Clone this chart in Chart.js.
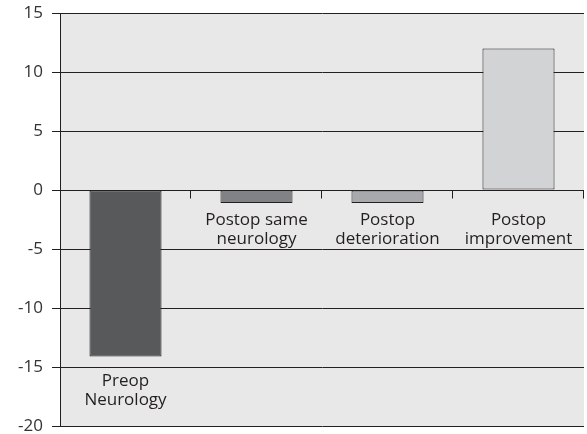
<!DOCTYPE html>
<html>
<head>
<meta charset="utf-8">
<script src="https://cdn.jsdelivr.net/npm/chart.js@4"></script>
<style>
  html, body { margin: 0; padding: 0; background: #fff; }
  #wrap { width: 587px; height: 434px; }
</style>
</head>
<body>
<div id="wrap"><canvas id="outcomeChart" width="587" height="434"></canvas></div>
<script>
// Data
const categories = [['Preop', 'Neurology'], ['Postop same', 'neurology'], ['Postop', 'deterioration'], ['Postop', 'improvement']];
const values = [-14.1, -1.1, -1.1, 12];
const barColors = ['#58595b', '#808285', '#a7a9ac', '#d1d3d4'];
const yTicks = [15, 10, 5, 0, -5, -10, -15, -20];

const fontFamily = '"Open Sans", "Noto Sans", sans-serif';
const inkColor = '#231f20';

// Grey plot background
const plotBackground = {
    id: 'plotBackground',
    beforeDraw(chart) {
        const { ctx, chartArea: a } = chart;
        ctx.save();
        ctx.fillStyle = '#e8e8e8';
        ctx.fillRect(a.left, a.top, a.right - a.left, a.bottom - a.top);
        ctx.restore();
    }
};

// Category axis drawn along zero, labels under each bar end
const zeroAxis = {
    id: 'zeroAxis',
    afterDatasetsDraw(chart) {
        const { ctx, chartArea: a, scales } = chart;
        const x = scales.x, y = scales.y;
        const y0 = Math.round(y.getPixelForValue(0)) + 0.5;
        const step = x.getPixelForValue(1) - x.getPixelForValue(0);
        ctx.save();
        ctx.strokeStyle = inkColor;
        ctx.lineWidth = 1;
        ctx.beginPath();
        ctx.moveTo(a.left, y0);
        ctx.lineTo(a.right, y0);
        // tick marks between categories
        for (let i = 0; i < categories.length; i++) {
            const bx = Math.round(x.getPixelForValue(i) + step / 2) - 0.5;
            ctx.moveTo(bx, y0);
            ctx.lineTo(bx, y0 + 8);
        }
        ctx.stroke();

        ctx.fillStyle = inkColor;
        ctx.font = '17px ' + fontFamily;
        ctx.textAlign = 'center';
        ctx.textBaseline = 'alphabetic';
        values.forEach((v, i) => {
            const cx = x.getPixelForValue(i);
            // small bars: labels just under the zero line, long bars: under the bar end
            const base = v < -5 ? y.getPixelForValue(v) + 30 : y.getPixelForValue(0) + 35;
            categories[i].forEach((line, j) => ctx.fillText(line, cx, base + j * 19));
        });
        ctx.restore();
    }
};

const ctx = document.getElementById('outcomeChart').getContext('2d');
new Chart(ctx, {
    type: 'bar',
    data: {
        labels: categories.map(c => c.join(' ')),
        datasets: [{
            data: values,
            backgroundColor: barColors,
            borderColor: inkColor,
            borderWidth: 1,
            borderSkipped: false,
            barPercentage: 0.55,
            categoryPercentage: 1
        }]
    },
    options: {
        responsive: false,
        animation: false,
        devicePixelRatio: 1,
        layout: { padding: { top: 13, right: 3, bottom: 8, left: 0 } },
        plugins: {
            legend: { display: false },
            tooltip: { enabled: false }
        },
        scales: {
            x: { display: false },
            y: {
                min: -20,
                max: 15,
                afterFit(scale) {
                    scale.width = 60;
                    scale.paddingTop = 0;
                    scale.paddingBottom = 0;
                },
                afterBuildTicks(scale) { scale.ticks = yTicks.map(v => ({ value: v })); },
                ticks: {
                    color: '#333333',
                    padding: 9,
                    font: { family: fontFamily, size: 17 }
                },
                grid: {
                    color: inkColor,
                    lineWidth: 1,
                    tickLength: 8,
                    drawTicks: true
                },
                border: { color: inkColor, width: 1 }
            }
        }
    },
    plugins: [plotBackground, zeroAxis]
});
</script>
</body>
</html>
